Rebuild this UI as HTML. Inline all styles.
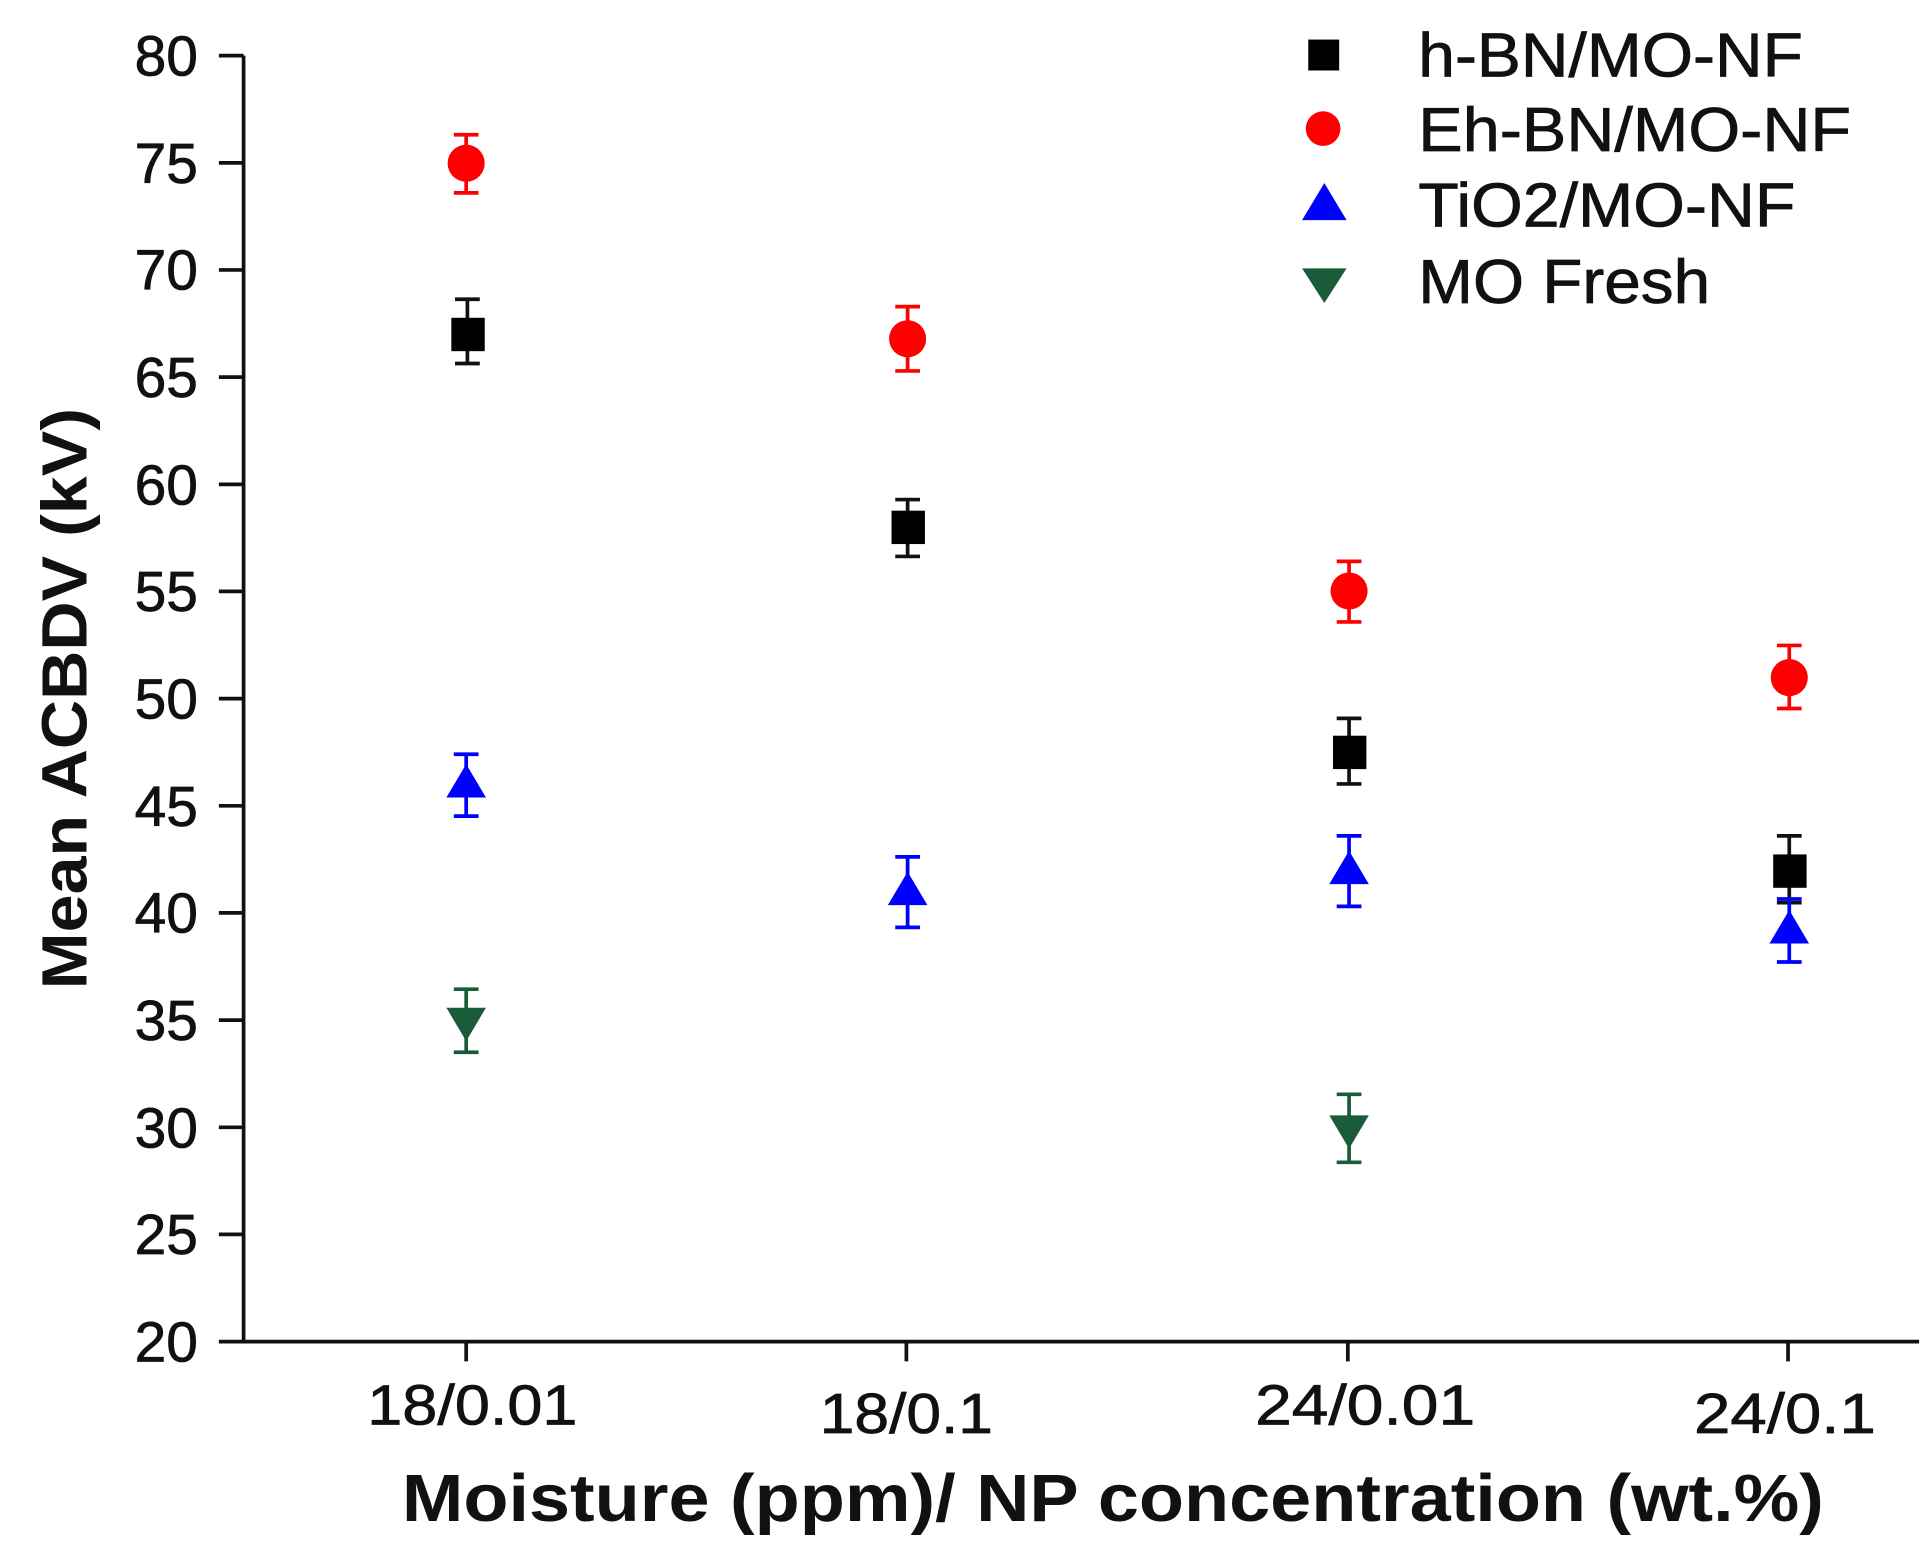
<!DOCTYPE html>
<html><head><meta charset="utf-8"><style>
html,body{margin:0;padding:0;background:#fff;}
svg{display:block;}
text{font-family:"Liberation Sans",Arial,sans-serif;fill:#111;}
</style></head><body>
<svg width="1929" height="1545" viewBox="0 0 1560 1249.5" preserveAspectRatio="none" xmlns="http://www.w3.org/2000/svg">
<rect width="1560" height="1250" fill="#fff"/>
<g stroke="#111" stroke-width="3" fill="none">
<line x1="197" y1="45" x2="197" y2="1086"/>
<line x1="196" y1="1085" x2="1552" y2="1085"/>
<path d="M177 45H197M177 131.7H197M177 218.3H197M177 305H197M177 391.7H197M177 478.3H197M177 565H197M177 651.7H197M177 738.3H197M177 825H197M177 911.7H197M177 998.3H197M177 1085H197"/>
<path d="M377 1085V1101M733 1085V1101M1090 1085V1101M1446 1085V1101"/>
</g>
<g font-size="46" text-anchor="end" stroke="#111" stroke-width="0.6">
<text x="160" y="61">80</text><text x="160" y="148">75</text><text x="160" y="234">70</text><text x="160" y="321">65</text><text x="160" y="408">60</text><text x="160" y="494">55</text><text x="160" y="581">50</text><text x="160" y="668">45</text><text x="160" y="754">40</text><text x="160" y="841">35</text><text x="160" y="928">30</text><text x="160" y="1014">25</text><text x="160" y="1101">20</text>
</g>
<g font-size="46" stroke="#111" stroke-width="0.6">
<text x="297" y="1152" textLength="170" lengthAdjust="spacingAndGlyphs">18/0.01</text>
<text x="663" y="1159" textLength="140" lengthAdjust="spacingAndGlyphs">18/0.1</text>
<text x="1015" y="1152" textLength="178" lengthAdjust="spacingAndGlyphs">24/0.01</text>
<text x="1370" y="1159" textLength="147" lengthAdjust="spacingAndGlyphs">24/0.1</text>
</g>
<text x="325" y="1230" font-size="54" font-weight="bold" textLength="1150" lengthAdjust="spacingAndGlyphs">Moisture (ppm)/ NP concentration (wt.%)</text>
<text transform="translate(70,800) rotate(-90)" font-size="52" font-weight="bold" textLength="470" lengthAdjust="spacingAndGlyphs">Mean ACBDV (kV)</text>
<g stroke-width="3">
<path stroke="#111" d="M378 242V294M368 242H388M368 294H388M734 404V450M724 404H744M724 450H744M1091 581V634M1081 581H1101M1081 634H1101M1447 676V730M1437 676H1457M1437 730H1457"/>
<path stroke="#f00" d="M377 109V156M367 109H387M367 156H387M734 248V300M724 248H744M724 300H744M1091 454V503M1081 454H1101M1081 503H1101M1447 522V573M1437 522H1457M1437 573H1457"/>
<path stroke="#00f" d="M377 610V660M367 610H387M367 660H387M734 693V750M724 693H744M724 750H744M1091 676V733M1081 676H1101M1081 733H1101M1447 727V778M1437 727H1457M1437 778H1457"/>
<path stroke="#1a5c3a" d="M377 800V851M367 800H387M367 851H387M1091 885V940M1081 885H1101M1081 940H1101"/>
</g>
<g fill="#000"><rect x="365" y="257" width="27" height="27"/><rect x="721" y="413" width="27" height="27"/><rect x="1078" y="595" width="27" height="27"/><rect x="1434" y="691" width="27" height="27"/></g>
<g fill="#f00"><circle cx="377" cy="132" r="15"/><circle cx="734" cy="274" r="15"/><circle cx="1091" cy="478" r="15"/><circle cx="1447" cy="548" r="15"/></g>
<g fill="#00f"><path d="M377 618L393 645H361Z"/><path d="M734 705L750 732H718Z"/><path d="M1091 688L1107 715H1075Z"/><path d="M1447 736L1463 763H1431Z"/></g>
<g fill="#1a5c3a"><path d="M361 815H393L377 842Z"/><path d="M1075 902H1107L1091 929Z"/></g>
<rect x="1058" y="32" width="25" height="25" fill="#000"/>
<circle cx="1070" cy="104" r="14" fill="#f00"/>
<path d="M1071 148L1089 178H1053Z" fill="#00f"/>
<path d="M1053 217H1089L1071 245Z" fill="#1a5c3a"/>
<g font-size="50" stroke="#111" stroke-width="0.6">
<text x="1147" y="62" textLength="311" lengthAdjust="spacingAndGlyphs">h-BN/MO-NF</text>
<text x="1147" y="122" textLength="350" lengthAdjust="spacingAndGlyphs">Eh-BN/MO-NF</text>
<text x="1147" y="183" textLength="305" lengthAdjust="spacingAndGlyphs">TiO2/MO-NF</text>
<text x="1147" y="245" textLength="236" lengthAdjust="spacingAndGlyphs">MO Fresh</text>
</g>
</svg>
</body></html>
